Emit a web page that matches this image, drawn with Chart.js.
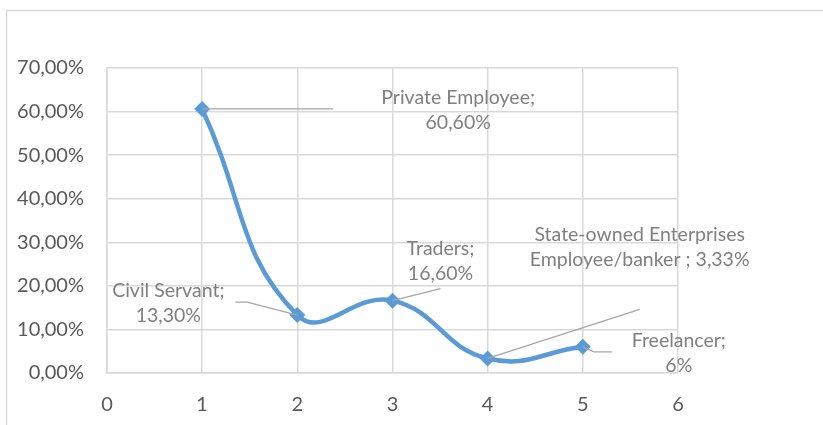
<!DOCTYPE html>
<html>
<head>
<meta charset="utf-8">
<script src="https://cdn.jsdelivr.net/npm/chart.js@4"></script>
<style>
  html, body { margin: 0; padding: 0; background: #fff; }
  #wrap { width: 823px; height: 425px; }
</style>
</head>
<body>
<div id="wrap"><canvas id="js-chart-canvas" width="823" height="425"></canvas></div>
<script>
// occupation shares, scatter with smooth line

const xValues = [1, 2, 3, 4, 5];
const shares = [60.6, 13.3, 16.6, 3.33, 6];
const occupations = [
  ["Private Employee;"],
  ["Civil Servant;"],
  ["Traders;"],
  ["State-owned Enterprises", "Employee/banker ;"],
  ["Freelancer;"],
];
const shareTexts = ["60,60%", "13,30%", "16,60%", "3,33%", "6%"];

// label placement relative to its point (px): centre x, first line y, leader path
const labelSpots = [
  { dx: 256, dy: -11, leader: [[0, 0], [131, 0]] },
  { dx: -129, dy: -24, leader: [[0, 0], [-50, -13], [-62, -13]] },
  { dx: 48, dy: -52, leader: [[0, 0], [48, -12]] },
  { dx: 152, dy: -124, leader: [[0, 0], [152, -49]] },
  { dx: 96, dy: -6, leader: [[0, 0], [11, 5], [29, 5]] },
];

const canvasContext = document.querySelector("#js-chart-canvas").getContext("2d");

const fontFamily = "Lato, 'Liberation Sans', sans-serif";

const frameDraw = {
  id: "frameDraw",
  beforeDraw(chart) {
    const { ctx } = chart;
    ctx.save();
    ctx.strokeStyle = "#d9d9d9";
    ctx.lineWidth = 1.5;
    ctx.beginPath();
    ctx.moveTo(6.5, 430);
    ctx.lineTo(6.5, 10.5);
    ctx.lineTo(830, 10.5);
    ctx.stroke();
    ctx.restore();
  },
};

const labelDraw = {
  id: "labelDraw",
  afterDatasetsDraw(chart) {
    const { ctx } = chart;
    const meta = chart.getDatasetMeta(0);
    ctx.save();
    meta.data.forEach((pt, i) => {
      const spot = labelSpots[i];
      // leader line
      ctx.strokeStyle = "#a6a6a6";
      ctx.lineWidth = 1.3;
      ctx.beginPath();
      spot.leader.forEach(([lx, ly], k) => {
        if (k === 0) ctx.moveTo(pt.x + lx, pt.y + ly);
        else ctx.lineTo(pt.x + lx, pt.y + ly);
      });
      ctx.stroke();

      // text
      const lines = occupations[i].slice();
      if (i === 3) lines[1] = lines[1] + " " + shareTexts[i];
      else lines.push(shareTexts[i]);
      ctx.fillStyle = "#808080";
      ctx.font = "19.5px " + fontFamily;
      ctx.textAlign = "center";
      ctx.textBaseline = "middle";
      lines.forEach((t, k) => {
        ctx.fillText(t, pt.x + spot.dx, pt.y + spot.dy + k * 25);
      });
    });
    ctx.restore();
  },
};

const data = {
  datasets: [
    {
      label: "Share",
      data: xValues.map((x, i) => ({ x: x, y: shares[i] })),
      borderColor: "#5b9bd5",
      backgroundColor: "#5b9bd5",
      borderWidth: 4.5,
      tension: 0.45,
      pointStyle: "rectRot",
      pointRadius: 8,
      pointBorderWidth: 0,
      showLine: true,
    },
  ],
};

const options = {
  responsive: false,
  animation: false,
  layout: { padding: { top: 68, right: 145, left: 0, bottom: 0 } },
  plugins: {
    legend: { display: false },
    tooltip: { enabled: false },
  },
  scales: {
    x: {
      type: "linear",
      min: 0,
      max: 6,
      ticks: {
        stepSize: 1,
        color: "#595959",
        padding: 20,
        font: { family: fontFamily, size: 20 },
      },
      grid: { color: "#d9d9d9", lineWidth: 1.5, drawTicks: false },
      border: { color: "#d9d9d9", width: 1.5 },
      afterFit(scale) {
        scale.height = 52;
      },
    },
    y: {
      min: 0,
      max: 70,
      ticks: {
        stepSize: 10,
        color: "#595959",
        padding: 23,
        font: { family: fontFamily, size: 20 },
        callback: (v) => v.toFixed(2).replace(".", ",") + "%",
      },
      grid: { color: "#d9d9d9", lineWidth: 1.5, drawTicks: false },
      border: { color: "#d9d9d9", width: 1.5 },
      afterFit(scale) {
        scale.width = 107;
      },
    },
  },
};

const shareChart = new Chart(canvasContext, {
  type: "scatter",
  data: data,
  options: options,
  plugins: [frameDraw, labelDraw],
});
</script>
</body>
</html>
